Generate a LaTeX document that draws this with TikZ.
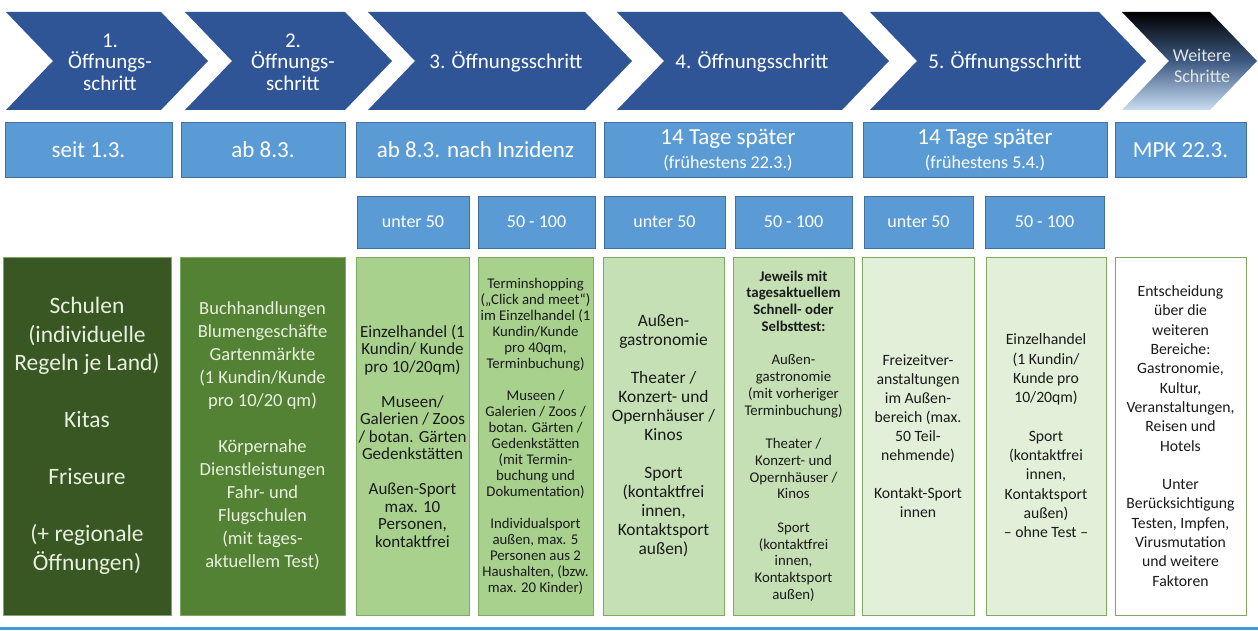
\documentclass[tikz,border=0pt]{standalone}
\usepackage{fontspec}
\setmainfont{Carlito}
\definecolor{stepblue}{HTML}{2F5597}
\definecolor{dateblue}{HTML}{5B9BD5}
\definecolor{dateedge}{HTML}{41719C}
\definecolor{darkgreen}{HTML}{385723}
\definecolor{midgreen}{HTML}{548235}
\definecolor{greenthree}{HTML}{A9D18E}
\definecolor{greenfour}{HTML}{C5E0B4}
\definecolor{greenfive}{HTML}{E2F0D9}
\definecolor{boxedge}{HTML}{7FA860}
\definecolor{paletext}{HTML}{E8F0DF}
\definecolor{textgray}{HTML}{1A1A1A}
\definecolor{lineblue}{HTML}{3E9BD6}
\definecolor{fadeblue}{HTML}{C9DDF2}
\definecolor{slateblue}{HTML}{3E5A82}

\begin{document}
\begin{tikzpicture}[x=1pt, y=-1pt,
  chev/.style={fill=stepblue},
  chevtext/.style={text=white, align=center, inner sep=0, font=\fontsize{21}{21.5}\selectfont},
  datebox/.style={fill=dateblue, draw=dateedge, line width=0.8pt, text=white, inner sep=0, minimum height=55pt, align=center, font=\fontsize{23}{24}\selectfont},
  incbox/.style={datebox, minimum height=52pt, font=\fontsize{18}{20}\selectfont},
  infobox/.style={draw=boxedge, line width=0.8pt, inner sep=0, minimum height=358pt, align=center, text=textgray}]
  \useasboundingbox (0,0) rectangle (1258,631);

  % steps
  \fill[chev] (6,12) -- ++(155,0) -- ++(47,49) -- ++(-47,49) -- ++(-155,0) -- ++(47,-49) -- cycle;
  \fill[chev] (185,12) -- ++(160,0) -- ++(47,49) -- ++(-47,49) -- ++(-160,0) -- ++(47,-49) -- cycle;
  \fill[chev] (368,12) -- ++(217,0) -- ++(47,49) -- ++(-47,49) -- ++(-217,0) -- ++(47,-49) -- cycle;
  \fill[chev] (617,12) -- ++(225,0) -- ++(47,49) -- ++(-47,49) -- ++(-225,0) -- ++(47,-49) -- cycle;
  \fill[chev] (870,12) -- ++(229,0) -- ++(47,49) -- ++(-47,49) -- ++(-229,0) -- ++(47,-49) -- cycle;
  \shade[top color=black, bottom color=fadeblue, middle color=slateblue] (1122,12) -- ++(88,0) -- ++(47,49) -- ++(-47,49) -- ++(-88,0) -- ++(47,-49) -- cycle;

  \node[chevtext] (s1) at (110,62) {1.\\Öffnungs-\\schritt};
  \node[chevtext] (s2) at (293,62) {2.\\Öffnungs-\\schritt};
  \node[chevtext] (s3) at (506,62) {3. Öffnungsschritt};
  \node[chevtext] (s4) at (752,62) {4. Öffnungsschritt};
  \node[chevtext] (s5) at (1005,62) {5. Öffnungsschritt};
  \node[chevtext, text=white!90!black, font=\fontsize{18}{21}\selectfont] (s6) at (1202,66) {Weitere\\Schritte};

  % dates
  \node[datebox, minimum width=167pt] (d1) at (88.5,150) {seit 1.3.};
  \node[datebox, minimum width=164pt] (d2) at (263,150) {ab 8.3.};
  \node[datebox, minimum width=239pt] (d3) at (475.5,150) {ab 8.3. nach Inzidenz};
  \node[datebox, minimum width=248pt] (d4) at (728,150) {14 Tage später\\{\fontsize{18}{20}\selectfont (frühestens 22.3.)}};
  \node[datebox, minimum width=244pt] (d5) at (985,150) {14 Tage später\\{\fontsize{18}{20}\selectfont (frühestens 5.4.)}};
  \node[datebox, minimum width=131pt] (d6) at (1180.5,150) {MPK 22.3.};

  % incidence
  \node[incbox, minimum width=112pt] (i1) at (413,222) {unter 50};
  \node[incbox, minimum width=117pt] (i2) at (536.5,222) {50 - 100};
  \node[incbox, minimum width=121pt] (i3) at (664.5,222) {unter 50};
  \node[incbox, minimum width=117pt] (i4) at (793.5,222) {50 - 100};
  \node[incbox, minimum width=109pt] (i5) at (918.5,222) {unter 50};
  \node[incbox, minimum width=119pt] (i6) at (1044.5,222) {50 - 100};

  % measures
  \node[infobox, fill=darkgreen, text=paletext, minimum width=168pt, font=\fontsize{23.5}{28.5}\selectfont] (b1) at (87,436)
    {Schulen\\(individuelle\\Regeln je Land)\\[28.5pt]Kitas\\[28.5pt]Friseure\\[28.5pt](+ regionale\\Öffnungen)};
  \node[infobox, fill=midgreen, text=paletext, minimum width=165pt, font=\fontsize{18.5}{23}\selectfont] (b2) at (262.5,436)
    {Buchhandlungen\\Blumengeschäfte\\Gartenmärkte\\(1 Kundin/Kunde\\pro 10/20 qm)\\[23pt]Körpernahe\\Dienstleistungen\\Fahr- und\\Flugschulen\\(mit tages-\\aktuellem Test)};
  \node[infobox, fill=greenthree, minimum width=113pt, font=\fontsize{17}{17.5}\selectfont] (b3) at (412.5,436)
    {Einzelhandel (1\\Kundin/ Kunde\\pro 10/20qm)\\[17.5pt]Museen/\\Galerien / Zoos\\/ botan. Gärten\\Gedenkstätten\\[17.5pt]Außen-Sport\\max. 10\\Personen,\\kontaktfrei};
  \node[infobox, fill=greenthree, minimum width=115pt, font=\fontsize{14.8}{16}\selectfont] (b4) at (535.5,436)
    {Terminshopping\\(„Click and meet“)\\im Einzelhandel (1\\Kundin/Kunde\\pro 40qm,\\Terminbuchung)\\[16pt]Museen /\\Galerien / Zoos /\\botan. Gärten /\\Gedenkstätten\\(mit Termin-\\buchung und\\Dokumentation)\\[16pt]Individualsport\\außen, max. 5\\Personen aus 2\\Haushalten, (bzw.\\max. 20 Kinder)};
  \node[infobox, fill=greenfour, minimum width=121pt, font=\fontsize{17.4}{19}\selectfont] (b5) at (663.5,436)
    {Außen-\\gastronomie\\[19pt]Theater /\\Konzert- und\\Opernhäuser /\\Kinos\\[19pt]Sport\\(kontaktfrei\\innen,\\Kontaktsport\\außen)};
  \node[infobox, fill=greenfour, minimum width=121pt, font=\fontsize{14.8}{16.75}\selectfont] (b6) at (793.5,436)
    {\textbf{Jeweils mit}\\\textbf{tagesaktuellem}\\\textbf{Schnell- oder}\\\textbf{Selbsttest:}\\[16.75pt]Außen-\\gastronomie\\(mit vorheriger\\Terminbuchung)\\[16.75pt]Theater /\\Konzert- und\\Opernhäuser /\\Kinos\\[16.75pt]Sport\\(kontaktfrei\\innen,\\Kontaktsport\\außen)};
  \node[infobox, fill=greenfive, minimum width=112pt, font=\fontsize{15.7}{19}\selectfont] (b7) at (918,436)
    {Freizeitver-\\anstaltungen\\im Außen-\\bereich (max.\\50 Teil-\\nehmende)\\[19pt]Kontakt-Sport\\innen};
  \node[infobox, fill=greenfive, minimum width=120pt, font=\fontsize{15.7}{19.3}\selectfont] (b8) at (1046,436)
    {Einzelhandel\\(1 Kundin/\\Kunde pro\\10/20qm)\\[19.3pt]Sport\\(kontaktfrei\\innen,\\Kontaktsport\\außen)\\– ohne Test –};
  \node[infobox, fill=white, minimum width=131pt, font=\fontsize{15.7}{19.3}\selectfont] (b9) at (1180.5,436)
    {Entscheidung\\über die\\weiteren\\Bereiche:\\Gastronomie,\\Kultur,\\Veranstaltungen,\\Reisen und\\Hotels\\[19.3pt]Unter\\Berücksichtigung\\Testen, Impfen,\\Virusmutation\\und weitere\\Faktoren};

  \draw[lineblue, line width=3pt] (0,628) -- (1258,628);
\end{tikzpicture}
\end{document}
